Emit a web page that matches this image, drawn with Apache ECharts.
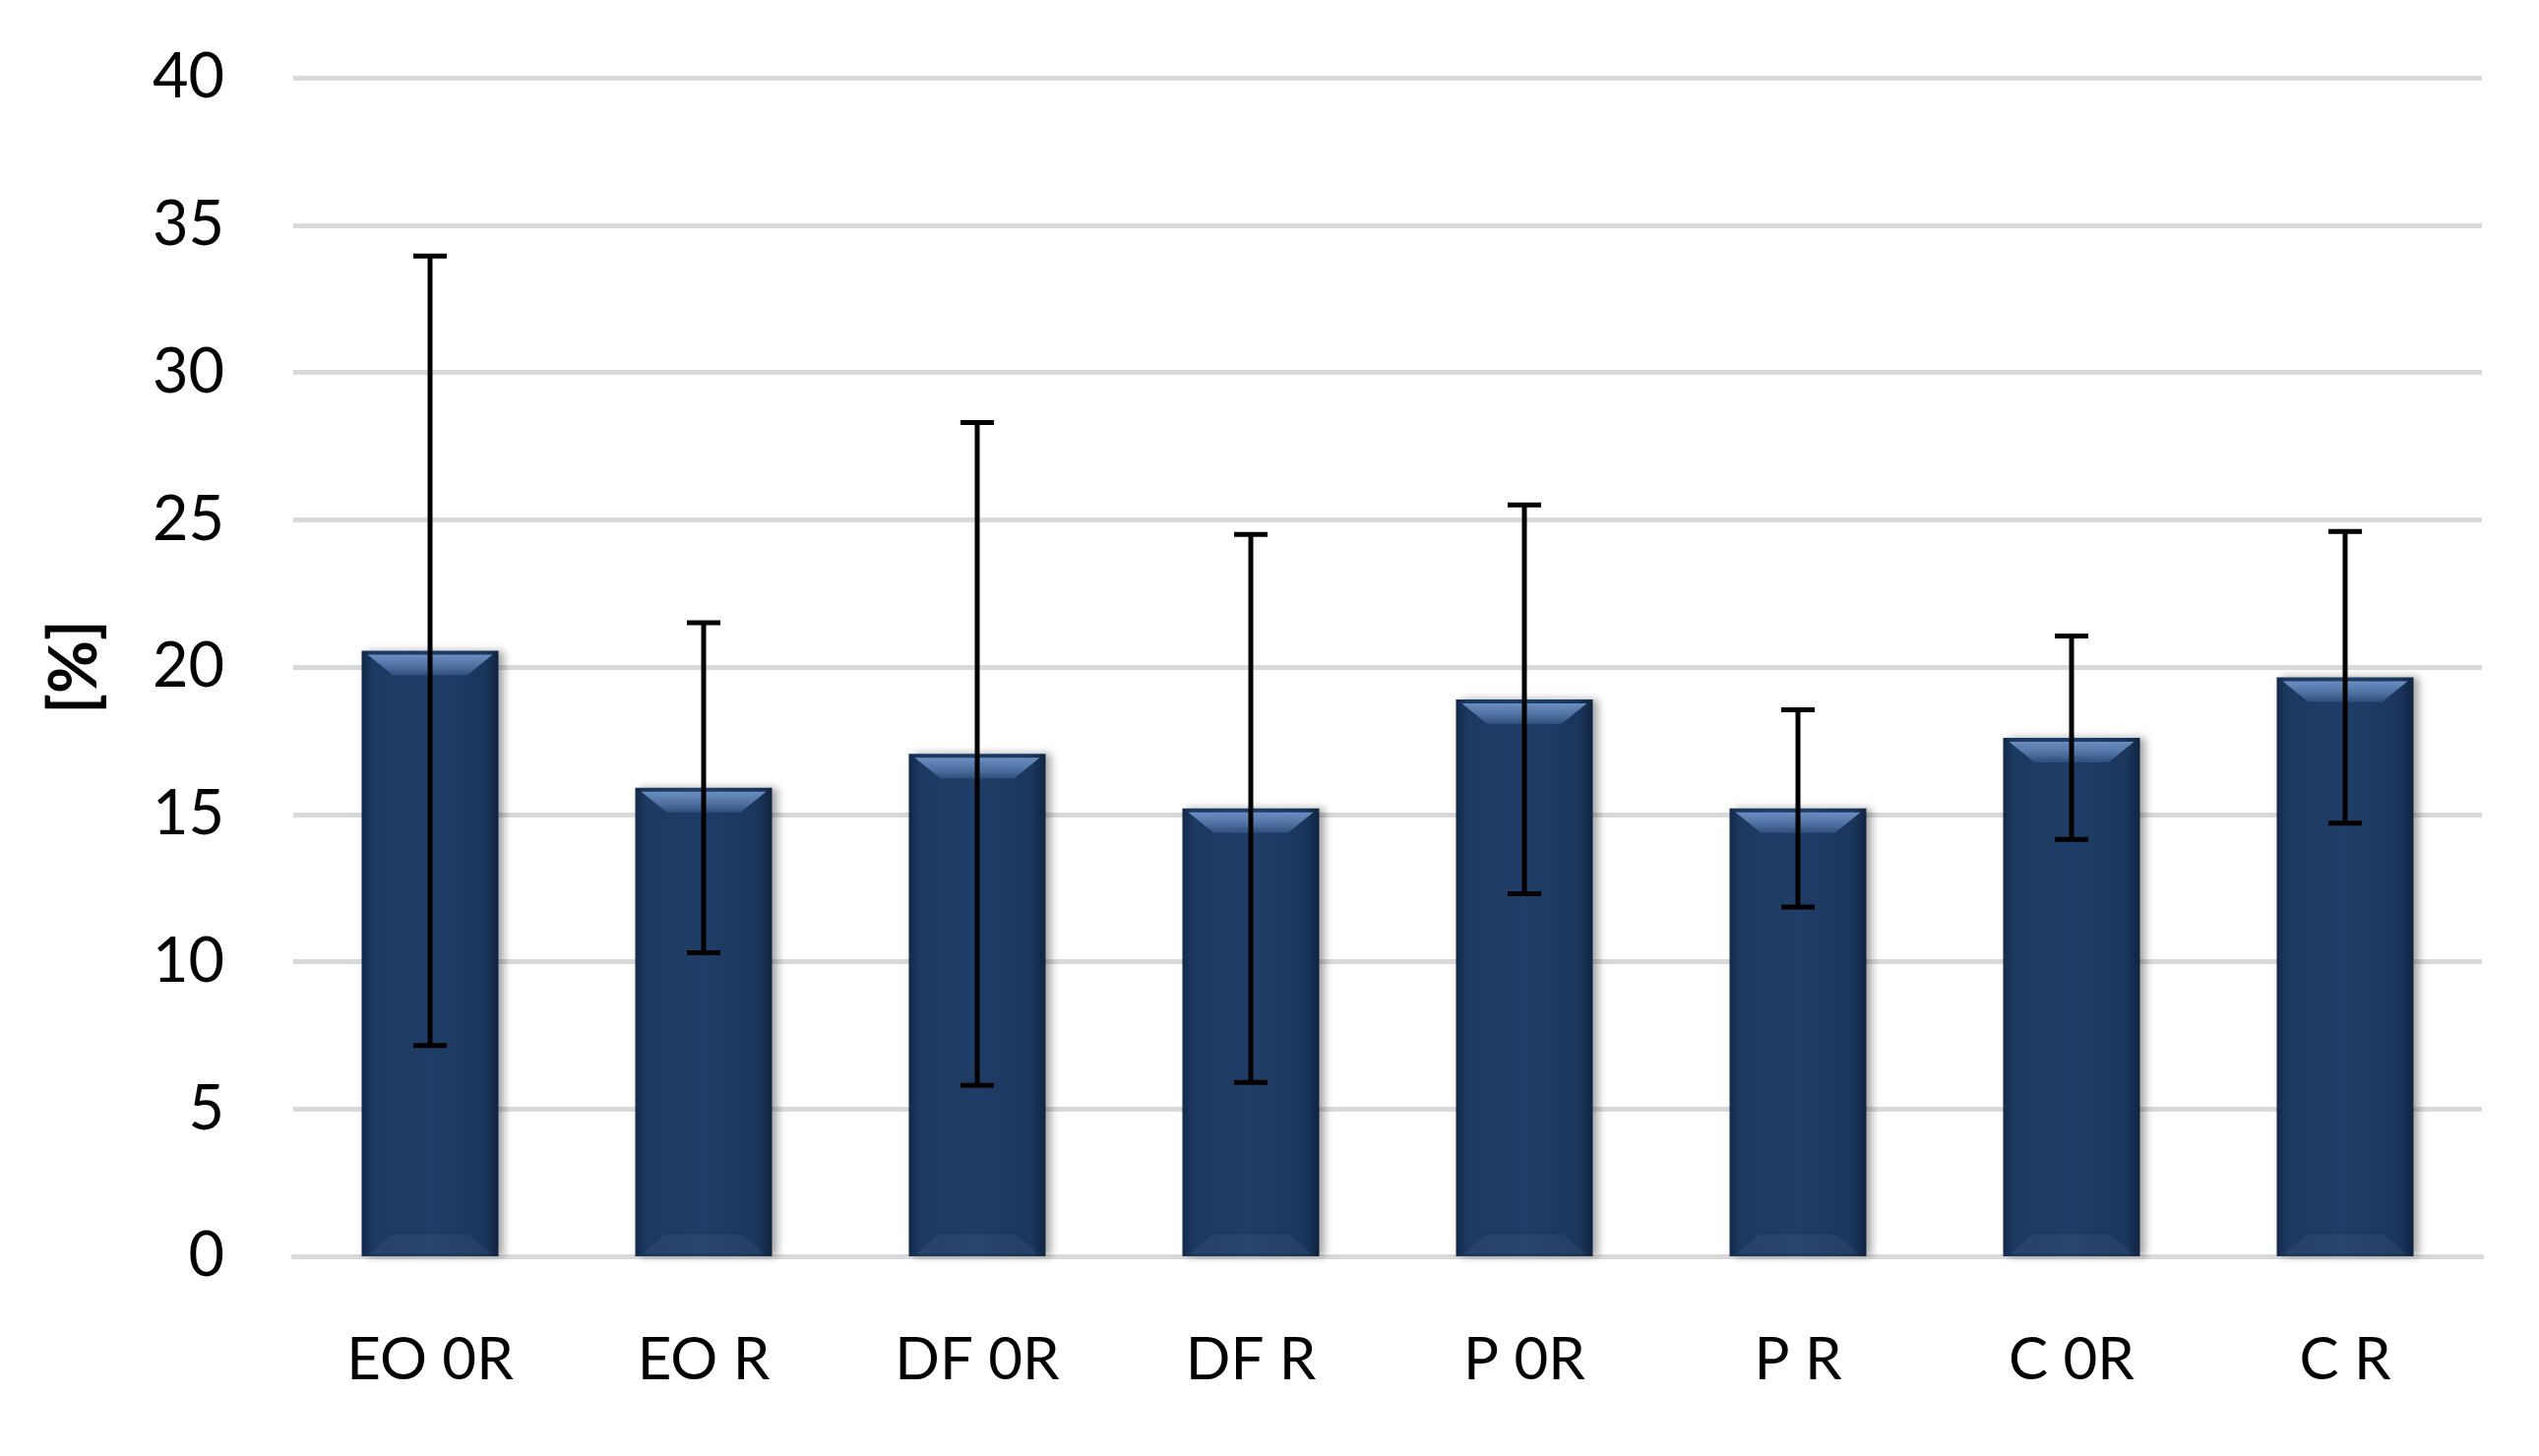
<!DOCTYPE html>
<html>
<head>
<meta charset="utf-8">
<script src="https://cdn.jsdelivr.net/npm/echarts@6/dist/echarts.min.js"></script>
<style>html,body{margin:0;padding:0;background:#fff;}#c{width:2580px;height:1480px;}</style>
</head>
<body>
<div id="c"></div>
<script>
const categories = ['EO 0R', 'EO R', 'DF 0R', 'DF R', 'P 0R', 'P R', 'C 0R', 'C R'];
const means = [20.55, 15.9, 17.05, 15.2, 18.9, 15.2, 17.6, 19.65];
const errorsSD = [13.4, 5.6, 11.25, 9.3, 6.6, 3.35, 3.45, 4.95];
const yTicks = [0, 5, 10, 15, 20, 25, 30, 35, 40];

const FONT = 'Lato, "Open Sans", sans-serif';
const chart = echarts.init(document.getElementById('c'));

const errData = means.map((m, i) => [i, m - errorsSD[i], m + errorsSD[i]]);
const bevelData = means.map((m, i) => [i, m]);

chart.setOption({
  animation: false,
  backgroundColor: '#ffffff',
  grid: { left: 298, right: 58, top: 79, bottom: 203, containLabel: false },
  xAxis: {
    type: 'category',
    data: categories,
    axisLine: { show: true, lineStyle: { color: '#d9d9d9', width: 5 } },
    axisTick: { show: false },
    axisLabel: { color: '#000', fontFamily: FONT, fontSize: 60, margin: 76 }
  },
  yAxis: {
    type: 'value',
    min: yTicks[0],
    max: yTicks[yTicks.length - 1],
    interval: 5,
    name: '[%]',
    nameLocation: 'middle',
    nameGap: 188,
    nameRotate: 90,
    nameTextStyle: { color: '#000', fontFamily: FONT, fontSize: 66, fontWeight: 'bold' },
    axisLine: { show: false },
    axisTick: { show: false },
    axisLabel: { color: '#000', fontFamily: FONT, fontSize: 63, margin: 70 },
    splitLine: { lineStyle: { color: '#d9d9d9', width: 5 } }
  },
  series: [
    {
      type: 'bar',
      data: means,
      barWidth: '50%',
      z: 2,
      itemStyle: {
        color: new echarts.graphic.LinearGradient(0, 0, 1, 0, [
          { offset: 0, color: '#13294a' },
          { offset: 0.08, color: '#1c3961' },
          { offset: 0.5, color: '#1f3d66' },
          { offset: 0.9, color: '#1a365d' },
          { offset: 1, color: '#102340' }
        ]),
        shadowColor: 'rgba(0,0,0,0.35)',
        shadowBlur: 8,
        shadowOffsetX: 5,
        shadowOffsetY: 0
      }
    },
    {
      type: 'custom',
      data: bevelData,
      z: 3,
      silent: true,
      renderItem: function (params, api) {
        const top = api.coord([api.value(0), api.value(1)]);
        const base = api.coord([api.value(0), 0]);
        const w = api.size([1, 0])[0] * 0.5;
        const x0 = top[0] - w / 2, x1 = top[0] + w / 2;
        return {
          type: 'group',
          children: [
            {
              type: 'polygon',
              shape: { points: [[x0 + 6, top[1] + 4], [x1 - 6, top[1] + 4], [x1 - 32, top[1] + 25], [x0 + 32, top[1] + 25]] },
              style: {
                fill: new echarts.graphic.LinearGradient(0, 0, 0, 1, [
                  { offset: 0, color: '#6b8ec2' },
                  { offset: 0.6, color: '#4d6f9f' },
                  { offset: 1, color: '#2e4e7c' }
                ])
              }
            },
            {
              type: 'polygon',
              shape: { points: [[x0 + 8, base[1] - 3], [x1 - 8, base[1] - 3], [x1 - 30, base[1] - 22], [x0 + 30, base[1] - 22]] },
              style: { fill: 'rgba(90,110,140,0.18)' }
            }
          ]
        };
      }
    },
    {
      type: 'custom',
      data: errData,
      z: 4,
      silent: true,
      renderItem: function (params, api) {
        const i = api.value(0);
        const lo = api.coord([i, api.value(1)]);
        const hi = api.coord([i, api.value(2)]);
        const cap = 17;
        const st = { stroke: '#000', lineWidth: 5 };
        return {
          type: 'group',
          children: [
            { type: 'line', shape: { x1: hi[0], y1: hi[1], x2: lo[0], y2: lo[1] }, style: st },
            { type: 'line', shape: { x1: hi[0] - cap, y1: hi[1], x2: hi[0] + cap, y2: hi[1] }, style: st },
            { type: 'line', shape: { x1: lo[0] - cap, y1: lo[1], x2: lo[0] + cap, y2: lo[1] }, style: st }
          ]
        };
      }
    }
  ]
});
</script>
</body>
</html>
